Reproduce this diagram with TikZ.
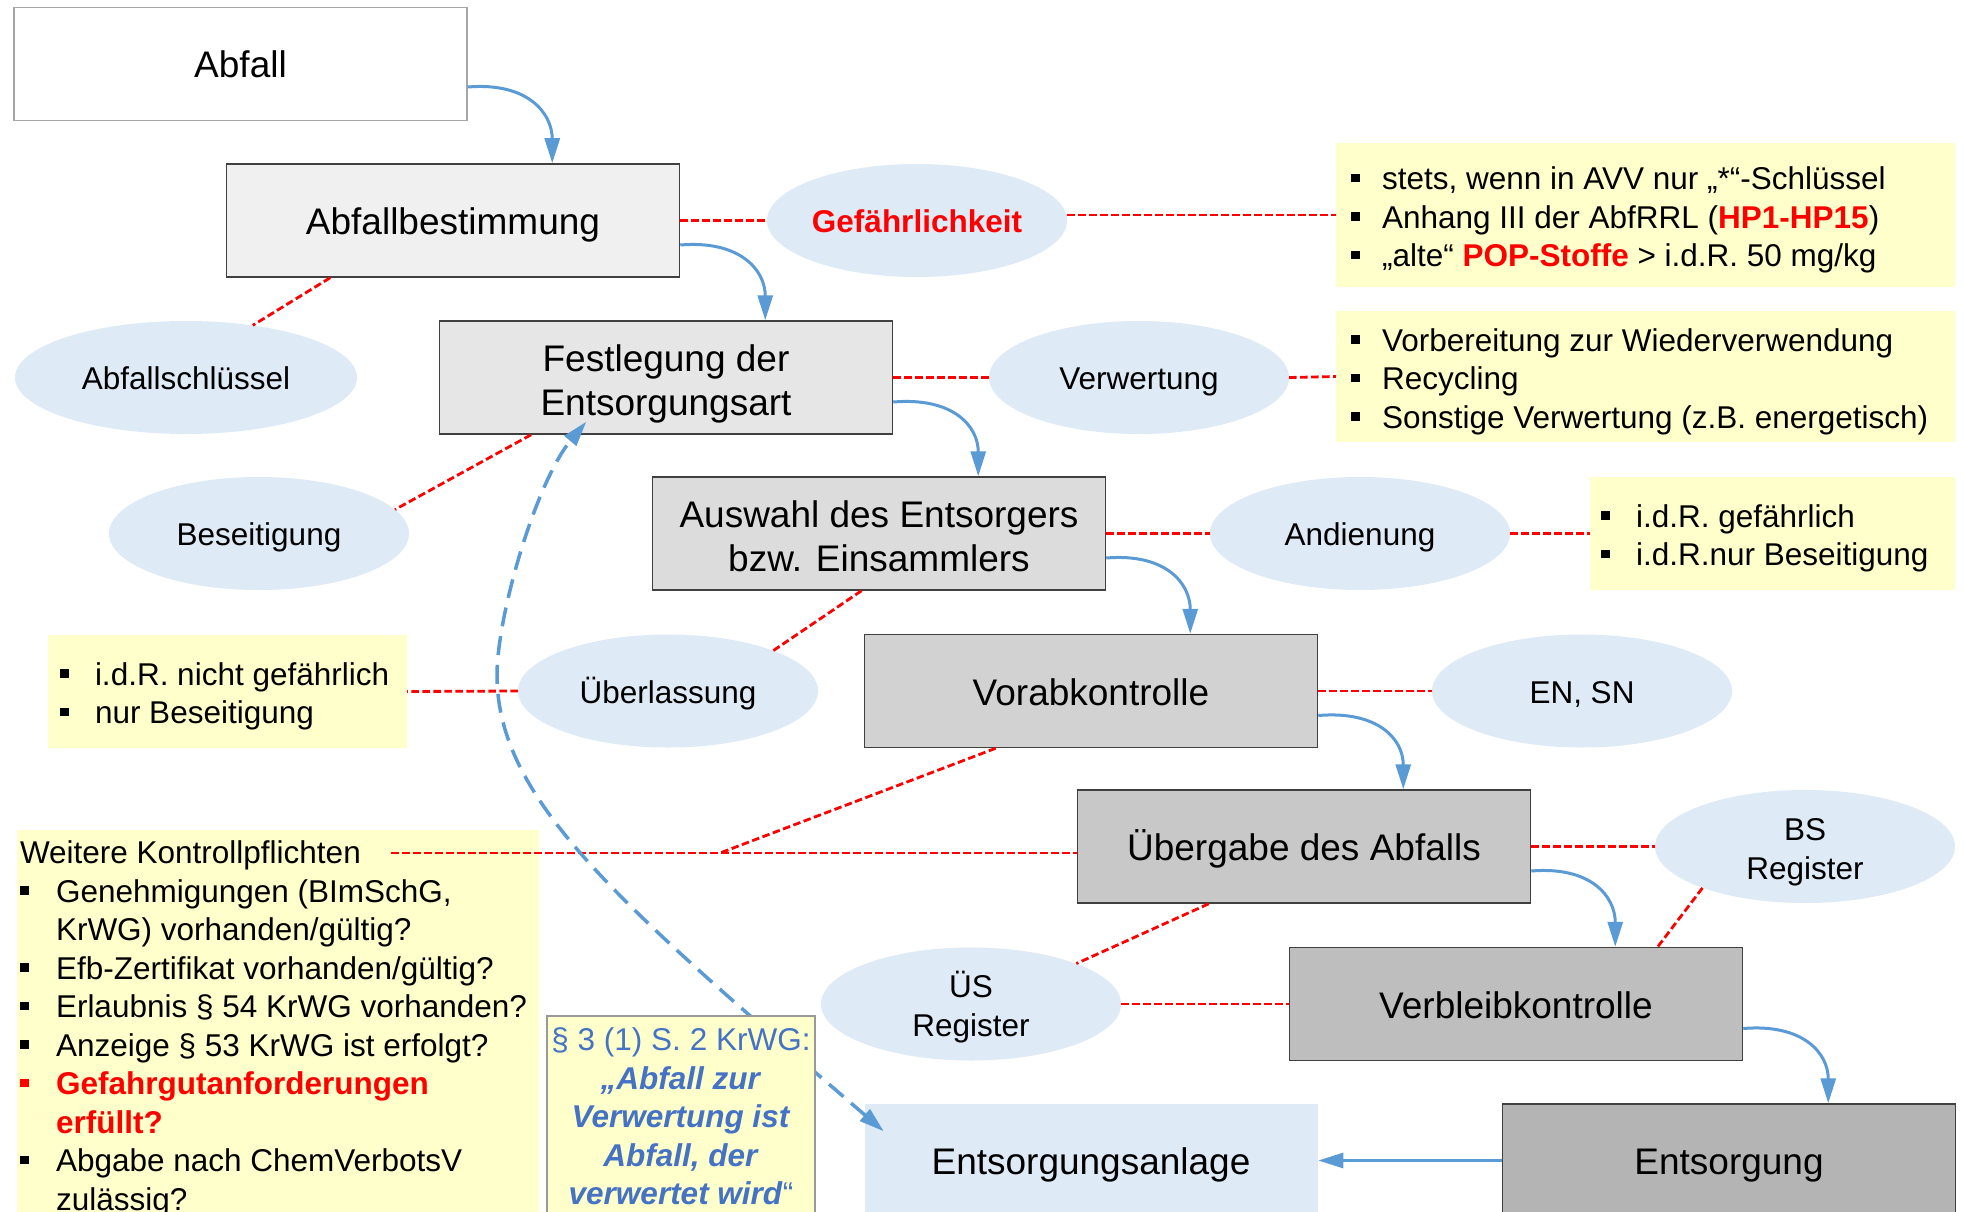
\documentclass[tikz,border=0pt]{standalone}
\usepackage{fontspec}
\setmainfont{Liberation Sans}
\usetikzlibrary{arrows.meta,calc,shapes.geometric}
\definecolor{ellblue}{HTML}{DEEAF6}
\definecolor{yel}{HTML}{FFFFCC}
\definecolor{arrblue}{HTML}{5B9BD5}
\definecolor{txtblue}{HTML}{4472C4}
\definecolor{bord}{HTML}{404040}
\definecolor{redc}{HTML}{FF0000}
\definecolor{ga}{HTML}{F0F0F0}
\definecolor{gb}{HTML}{E6E6E6}
\definecolor{gc}{HTML}{DCDCDC}
\definecolor{gd}{HTML}{D2D2D2}
\definecolor{ge}{HTML}{C8C8C8}
\definecolor{gf}{HTML}{BEBEBE}
\definecolor{gg}{HTML}{B4B4B4}
\newcommand\bigf{\fontsize{37}{44}\selectfont}
\newcommand\smf{\fontsize{31.5}{38.5}\selectfont}
\newcommand\bl[1][35pt]{\makebox[#1][l]{\rule[7.5pt]{8.5pt}{8.5pt}}}
\newcommand\ind[1][35pt]{\makebox[#1][l]{}}
\begin{document}
\begin{tikzpicture}[x=1pt,y=-1pt,
  stepbox/.style={draw=bord, line width=1.5pt, minimum width=453pt, minimum height=113pt, inner sep=0pt, font=\bigf, align=center},
  oneline/.style={text height=28pt, text depth=0pt},
  oneell/.style={text height=24pt, text depth=0pt},
  multi/.style={text depth=0pt},
  ell/.style={ellipse, fill=ellblue, minimum width=300pt, minimum height=113pt, inner sep=0pt, font=\smf, align=center},
  yelbox/.style={fill=yel, inner sep=0pt},
  txt/.style={inner sep=0pt, align=left, font=\smf},
  reddash/.style={draw=redc, line width=2.8pt, dash pattern=on 7.5pt off 3.5pt},
  bluearr/.style={draw=arrblue, line width=3pt, -{Triangle[length=25pt,width=15pt]}},
  bluedash/.style={draw=arrblue, line width=3.5pt, dash pattern=on 19pt off 10pt, {Triangle[length=25pt,width=15pt]}-{Triangle[length=25pt,width=15pt]}}
]
\useasboundingbox (0,0) rectangle (1964,1212);
\clip (0,0) rectangle (1964,1212);
\fill[white] (0,0) rectangle (1964,1212);

% process boxes
\node[stepbox, oneline, draw=gray!70, fill=white] (abfall) at (240.5,64) {Abfall};
\node[stepbox, oneline, fill=ga] (best) at (453,220.5) {Abfallbestimmung};
\node[stepbox, multi, text height=76pt, fill=gb] (fest) at (666,377.5) {Festlegung der\\Entsorgungsart};
\node[stepbox, multi, text height=75pt, fill=gc] (ausw) at (879,533.5) {Auswahl des Entsorgers\\bzw. Einsammlers};
\node[stepbox, oneline, fill=gd] (vorab) at (1091,691) {Vorabkontrolle};
\node[stepbox, oneline, fill=ge] (ueb) at (1304,846.5) {Übergabe des Abfalls};
\node[stepbox, oneline, fill=gf] (verb) at (1516,1004) {Verbleibkontrolle};
\node[stepbox, oneline, fill=gg] (ents) at (1729,1160.5) {Entsorgung};
\node[stepbox, oneline, draw=none, fill=ellblue] (anl) at (1091,1160.5) {Entsorgungsanlage};

% ellipses
\node[ell, oneell] (gef) at (917,220.5) {\textbf{\color{redc}Gefährlichkeit}};
\node[ell, oneell, minimum width=342pt] (schl) at (186,377.5) {Abfallschlüssel};
\node[ell, oneell] (verw) at (1139,377.5) {Verwertung};
\node[ell, oneell] (beseit) at (259,533.5) {Beseitigung};
\node[ell, oneell] (andien) at (1360,533.5) {Andienung};
\node[ell, oneell] (ueberl) at (668,691) {Überlassung};
\node[ell, oneell] (ensn) at (1582,691) {EN, SN};
\node[ell, multi, text height=65pt] (bs) at (1805,846.5) {BS\\Register};
\node[ell, multi] (us) at (971,1004) {ÜS\\Register};

% yellow info boxes
\node[yelbox, minimum width=619pt, minimum height=144pt] (info1) at (1645.5,215) {};
\node[txt, anchor=west] (info1t) at ($(info1.west)+(15,5)$) {\bl[31pt]stets, wenn in AVV nur „*“-Schlüssel\\
\bl[31pt]Anhang III der AbfRRL (\textbf{\color{redc}HP1-HP15})\\
\bl[31pt]„alte“ \textbf{\color{redc}POP-Stoffe} > i.d.R. 50 mg/kg};
\node[yelbox, minimum width=619pt, minimum height=131pt] (info2) at (1645.5,376.5) {};
\node[txt, anchor=west] (info2t) at ($(info2.west)+(15,5)$) {\bl[31pt]Vorbereitung zur Wiederverwendung\\
\bl[31pt]Recycling\\
\bl[31pt]Sonstige Verwertung (z.B. energetisch)};
\node[yelbox, minimum width=365pt, minimum height=113pt] (info3) at (1772.5,533.5) {};
\node[txt, anchor=west] (info3t) at ($(info3.west)+(11,5)$) {\bl i.d.R. gefährlich\\
\bl i.d.R.nur Beseitigung};
\node[yelbox, minimum width=359pt, minimum height=113pt] (info4) at (227.5,691.5) {};
\node[txt, anchor=west] (info4t) at ($(info4.west)+(12,5)$) {\bl i.d.R. nicht gefährlich\\
\bl nur Beseitigung};
\node[yelbox, minimum width=522pt, minimum height=400pt] (wk) at (278,1030) {};
\node[txt, anchor=north west] (wkt) at ($(wk.north west)+(3,11)$) {Weitere Kontrollpflichten\\
\bl[36pt]Genehmigungen (BImSchG,\\
\ind[36pt]KrWG) vorhanden/gültig?\\
\bl[36pt]Efb-Zertifikat vorhanden/gültig?\\
\bl[36pt]Erlaubnis § 54 KrWG vorhanden?\\
\bl[36pt]Anzeige § 53 KrWG ist erfolgt?\\
{\color{redc}\bl[36pt]\textbf{Gefahrgutanforderungen}}\\
\ind[36pt]{\color{redc}\textbf{erfüllt?}}\\
\bl[36pt]Abgabe nach ChemVerbotsV\\
\ind[36pt]zulässig?};

\coordinate (wkstart) at (391,853);
\coordinate (wkjoin) at (720,853);
\coordinate (bend) at (497,675);

% red dashed connectors
\draw[reddash] (best.east) -- (gef.west);
\draw[reddash] (gef.east |- info1.west) -- (info1.west);
\draw[reddash] (best.205) -- (schl.38);
\draw[reddash] (fest.east) -- (verw.west);
\draw[reddash] (verw.east) -- (info2.west);
\draw[reddash] (fest.203) -- (beseit.10);
\draw[reddash] (ausw.east) -- (andien.west);
\draw[reddash] (andien.east) -- (info3.west);
\draw[reddash] (ausw.253) -- (ueberl.21);
\draw[reddash] (ueberl.west) -- (info4.east);
\draw[reddash] (vorab.east) -- (ensn.west);
\draw[reddash] (vorab.211) -- (wkjoin);
\draw[reddash] (wkstart) -- (wkstart -| ueb.west);
\draw[reddash] (ueb.east) -- (bs.west);
\draw[reddash] (bs.202) -- (verb.22);
\draw[reddash] (ueb.211) -- (us.21);
\draw[reddash] (us.east) -- (verb.west);

% blue flow arrows
\draw[bluearr] ($(abfall.east)+(0,23)$) .. controls +(60,-5) and +(0,-50) .. ($(best.north east)+(-128,0)$);
\draw[bluearr] ($(best.east)+(0,24.5)$) .. controls +(60,-5) and +(0,-50) .. ($(fest.north east)+(-128,0)$);
\draw[bluearr] ($(fest.east)+(0,24.5)$) .. controls +(60,-5) and +(0,-50) .. ($(ausw.north east)+(-128,0)$);
\draw[bluearr] ($(ausw.east)+(0,24.5)$) .. controls +(60,-5) and +(0,-50) .. ($(vorab.north east)+(-128,0)$);
\draw[bluearr] ($(vorab.east)+(0,24.5)$) .. controls +(60,-5) and +(0,-50) .. ($(ueb.north east)+(-128,0)$);
\draw[bluearr] ($(ueb.east)+(0,24.5)$) .. controls +(60,-5) and +(0,-50) .. ($(verb.north east)+(-128,0)$);
\draw[bluearr] ($(verb.east)+(0,24.5)$) .. controls +(60,-5) and +(0,-50) .. ($(ents.north east)+(-128,0)$);
\draw[bluearr] (ents.west) -- (anl.east);

% dashed feedback arrow
\draw[bluedash] ($(anl.north west)+(20,28)$) .. controls +(-264,-227) and +(0,125) .. (bend)
  .. controls +(0,-60) and +(-50,60) .. ($(fest.south west)+(147.5,-13)$);

% legal quote box
\node[yelbox, draw=gray!80, line width=1.5pt, minimum width=268pt, minimum height=218pt] (par) at (681,1125) {};
\node[inner sep=0pt, align=center, font=\smf, text=txtblue, anchor=north] (part) at ($(par.north)+(0,12.5)$) {§ 3 (1) S. 2 KrWG:\\
\textbf{\textit{„Abfall zur}}\\
\textbf{\textit{Verwertung ist}}\\
\textbf{\textit{Abfall, der}}\\
\textbf{\textit{verwertet wird}}“};
\end{tikzpicture}
\end{document}
